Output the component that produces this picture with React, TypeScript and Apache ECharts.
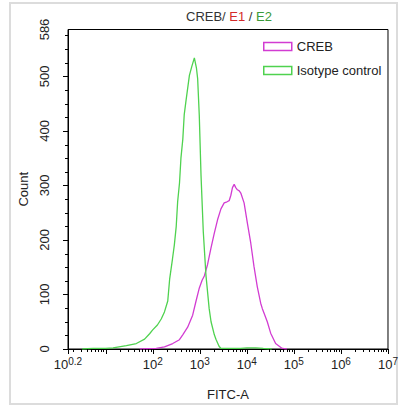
import React, { useEffect, useRef } from "react";
import * as echarts from "echarts";

// x values are log10(FITC-A)
const isoExp = [0.5, 0.735, 1.0, 1.158, 1.441, 1.652, 1.828, 1.934, 2.0, 2.1, 2.181, 2.25, 2.32, 2.36, 2.42, 2.46, 2.5, 2.53, 2.57, 2.6, 2.64, 2.67, 2.71, 2.78, 2.83, 2.885, 2.93, 2.955, 2.99, 3.027, 3.075, 3.132, 3.2, 3.24, 3.31, 3.344, 3.41, 3.45, 3.6, 3.87, 4.0, 4.19, 4.35, 4.53];
const isoCount = [0, 1, 1, 2, 6, 10, 18, 28, 35, 44, 55, 68, 88, 128, 165, 191, 225, 270, 305, 350, 385, 430, 457, 502, 518, 534, 515, 496, 428, 318, 215, 135, 74, 50, 26, 18, 5, 1, 1, 1, 2, 2, 1, 0];

const crebExp = [1.72, 2.075, 2.25, 2.426, 2.568, 2.638, 2.743, 2.849, 2.921, 2.991, 3.05, 3.097, 3.166, 3.238, 3.308, 3.378, 3.45, 3.519, 3.58, 3.625, 3.661, 3.695, 3.731, 3.765, 3.8, 3.84, 3.872, 3.942, 4.012, 4.084, 4.153, 4.223, 4.295, 4.33, 4.365, 4.435, 4.507, 4.612, 4.752, 4.85];
const crebCount = [0, 1, 4, 10, 17, 26, 40, 62, 88, 112, 126, 134, 155, 185, 212, 237, 257, 268, 270, 272, 282, 296, 302, 296, 292, 290, 286, 268, 231, 194, 151, 114, 84, 74, 66, 50, 29, 10, 1, 0];

const X_MIN = 0.2;
const X_MAX = 7;
const Y_MIN = 0;
const Y_MAX = 586;
const xMajorTicks = [0.2, 1, 2, 3, 4, 5, 6, 7];
const xLabelTicks = [0.2, 2, 3, 4, 5, 6, 7];
const yMajorTicks = [0, 100, 200, 300, 400, 500];
const yLabelTicks = [0, 100, 200, 300, 400, 500, 586];

const seriesNames = ["CREB", "Isotype control"];

const MAGENTA = "#d23cd2";
const GREEN = "#4fd24f";
const FONT = "Liberation Sans, Arial, sans-serif";
const TXT = "#222";

function buildMinorX(): number[] {
  const out: number[] = [];
  for (let d = 0; d < 7; d++) {
    for (let k = 2; k <= 9; k++) {
      const v = d + Math.log10(k);
      if (v > X_MIN && v < X_MAX) out.push(v);
    }
  }
  return out;
}

function buildMinorY(): number[] {
  const out: number[] = [];
  for (let v = 25; v < Y_MAX; v += 25) {
    if (v % 100 !== 0) out.push(v);
  }
  return out;
}

export default function App() {
  const ref = useRef<HTMLDivElement>(null);
  useEffect(() => {
    if (!ref.current) return;
    const chart = echarts.init(ref.current, undefined, { renderer: "svg" });
    const isoData = isoExp.map((x, i) => [x, isoCount[i]]);
    const crebData = crebExp.map((x, i) => [x, crebCount[i]]);

    const xTickData: number[][] = [];
    xMajorTicks.forEach((v) => xTickData.push([v, Y_MIN, 5]));
    buildMinorX().forEach((v) => xTickData.push([v, Y_MIN, 3]));
    const yTickData: number[][] = [];
    yMajorTicks.forEach((v) => yTickData.push([X_MIN, v, 5]));
    buildMinorY().forEach((v) => yTickData.push([X_MIN, v, 3]));

    const option: any = {
      animation: false,
      backgroundColor: "#fff",
      textStyle: { fontFamily: FONT },
      title: {
        left: 181,
        top: 5,
        text: "{a|CREB/ }{r|E1}{a| / }{g|E2}",
        textStyle: {
          fontWeight: "normal",
          rich: {
            a: { fontSize: 13, color: "#333", fontFamily: FONT, fontWeight: "normal" },
            r: { fontSize: 13, color: "#d42a2a", fontFamily: FONT, fontWeight: "normal" },
            g: { fontSize: 13, color: "#3a9a3a", fontFamily: FONT, fontWeight: "normal" },
          },
        },
      },
      legend: {
        orient: "vertical",
        left: 258,
        top: 35,
        itemWidth: 28,
        itemHeight: 8,
        itemGap: 11,
        icon: "rect",
        textStyle: { fontSize: 13, color: TXT, fontFamily: FONT },
        data: [
          { name: seriesNames[0], itemStyle: { color: "#fff", borderColor: MAGENTA, borderWidth: 1.5 } },
          { name: seriesNames[1], itemStyle: { color: "#fff", borderColor: GREEN, borderWidth: 1.5 } },
        ],
      },
      graphic: [
        {
          type: "rect",
          shape: { x: 10, y: 3, width: 387, height: 401 },
          style: { fill: "none", stroke: "#dcdcdc", lineWidth: 2 },
          silent: true,
        },
      ],
      grid: {
        left: 68,
        right: 11,
        top: 29.5,
        bottom: 58,
        show: true,
        borderColor: "#000",
        borderWidth: 1,
        backgroundColor: "transparent",
      },
      xAxis: {
        type: "value",
        min: X_MIN,
        max: X_MAX,
        position: "bottom",
        name: "FITC-A",
        nameLocation: "middle",
        nameGap: 39,
        nameTextStyle: { fontSize: 13, color: TXT, fontFamily: FONT },
        axisLine: { show: true, lineStyle: { color: "#000", width: 1 } },
        axisTick: { show: false },
        axisLabel: {
          customValues: xLabelTicks,
          margin: 8,
          formatter: (v: number) => {
            const s = Math.abs(v - 0.2) < 1e-6 ? "0.2" : String(Math.round(v));
            return "{b|10}{s|" + s + "}";
          },
          rich: {
            b: { fontSize: 13, color: TXT, fontFamily: FONT, lineHeight: 15 },
            s: { fontSize: 10, color: TXT, fontFamily: FONT, padding: [0, 0, 7, 0], lineHeight: 15 },
          },
        },
        splitLine: { show: false },
      },
      yAxis: {
        type: "value",
        min: Y_MIN,
        max: Y_MAX,
        position: "left",
        name: "Count",
        nameLocation: "middle",
        nameGap: 36,
        nameTextStyle: { fontSize: 13, color: TXT, fontFamily: FONT },
        axisLine: { show: true, lineStyle: { color: "#000", width: 1 } },
        axisTick: { show: false },
        axisLabel: {
          customValues: yLabelTicks,
          rotate: 90,
          margin: 17,
          fontSize: 13,
          color: TXT,
          fontFamily: FONT,
        },
        splitLine: { show: false },
      },
      series: [
        {
          name: seriesNames[0],
          type: "line",
          data: crebData,
          showSymbol: false,
          symbol: "none",
          color: MAGENTA,
          lineStyle: { color: MAGENTA, width: 1.3 },
        },
        {
          name: seriesNames[1],
          type: "line",
          data: isoData,
          showSymbol: false,
          symbol: "none",
          color: GREEN,
          lineStyle: { color: GREEN, width: 1.3 },
        },
        {
          name: "xticks",
          type: "custom",
          coordinateSystem: "cartesian2d",
          silent: true,
          clip: false,
          z: 10,
          data: xTickData,
          renderItem: (params: any, api: any) => {
            const p = api.coord([api.value(0), api.value(1)]);
            const len = api.value(2);
            const x = Math.round(p[0]) + 0.5;
            return {
              type: "line",
              shape: { x1: x, y1: p[1], x2: x, y2: p[1] + len },
              style: { stroke: "#000000", lineWidth: 1 },
            };
          },
        },
        {
          name: "yticks",
          type: "custom",
          coordinateSystem: "cartesian2d",
          silent: true,
          clip: false,
          z: 10,
          data: yTickData,
          renderItem: (params: any, api: any) => {
            const p = api.coord([api.value(0), api.value(1)]);
            const len = api.value(2);
            const y = Math.round(p[1]) + 0.5;
            return {
              type: "line",
              shape: { x1: p[0] - len, y1: y, x2: p[0], y2: y },
              style: { stroke: "#000000", lineWidth: 1 },
            };
          },
        },
      ],
    };
    chart.setOption(option);
    return () => chart.dispose();
  }, []);
  return (
    <div
      ref={ref}
      style={{ position: "fixed", left: 0, top: 0, width: 401, height: 407, background: "#fff" }}
    />
  );
}
